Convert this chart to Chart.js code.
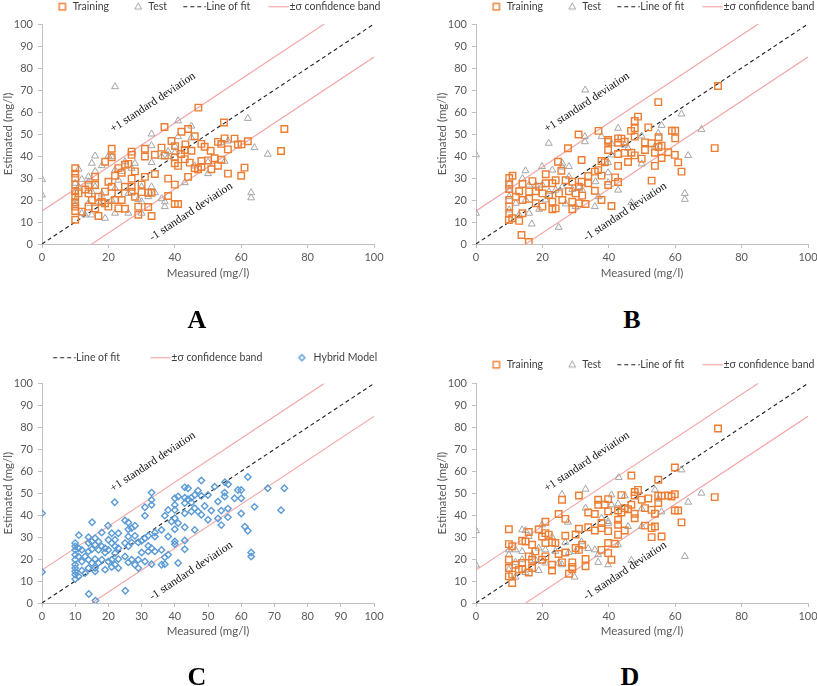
<!DOCTYPE html>
<html><head><meta charset="utf-8">
<script src="https://cdn.jsdelivr.net/npm/chart.js@4.4.0/dist/chart.umd.min.js"></script>
<style>
html,body{margin:0;padding:0;background:#fff;}
body{width:817px;height:686px;overflow:hidden;position:relative;}
canvas{position:absolute;}
.lbl{position:absolute;font:bold 26px 'Liberation Serif','Times New Roman',serif;color:#000;transform:translate(-50%,-50%);z-index:5;}
</style></head><body>
<canvas id="cA" width="434" height="309" style="left:0px;top:-19px"></canvas>
<canvas id="cB" width="434" height="309" style="left:434px;top:-19px"></canvas>
<canvas id="cC" width="434" height="330" style="left:0px;top:320px"></canvas>
<canvas id="cD" width="434" height="311" style="left:434px;top:339px"></canvas>
<div class="lbl" style="left:197px;top:320px">A</div>
<div class="lbl" style="left:632px;top:320px">B</div>
<div class="lbl" style="left:197px;top:677px">C</div>
<div class="lbl" style="left:630px;top:677px">D</div>
<script>
// ---------- data ----------
const xTicksWide = [0, 20, 40, 60, 80, 100];
const xTicksFine = [0, 10, 20, 30, 40, 50, 60, 70, 80, 90, 100];
const yTicks = [0, 10, 20, 30, 40, 50, 60, 70, 80, 90, 100];

const lineOfFit = [[0, 0], [100, 100]];
const upperBand = [[0, 15], [85, 100]];
const lowerBand = [[15, 0], [100, 85]];

const trainingA = [[10,34.4],[10,32],[10,30],[10,27],[10,24],[10,21.5],[10,19],[10,17],[10,15],[10,11],
[47.1,62],[36.9,53.2],[54.8,55.2],[73,52.3],[44,52.3],[42,51],[46,49],[43.2,45.3],[39,46.8],[40.1,44.5],[48,45.5],[55,48],[53,46.4],[58,47.9],[62,46.7],[59,45.2],[60.1,45.3],[56,43],[54,45.5],[50.8,42.4],[52,39],[49,44.2],[45,42.4],[43,42.7],[41.9,40.9],[37,40.2],[36,43.8],[31,43.3],[31,39.8],[34,40.6],[27,42],[27,40.5],[21,43.3],[21,39.4],[19,37.4],[23,34.5],[25,36],[26,36.4],[24,32.4],[27,29.7],[31,30.5],[34,31.8],[38,29.7],[40,39.4],[40,36.7],[41,35.5],[43,38.6],[44.5,37],[44,30.5],[46,34.4],[47,34],[48,37.7],[48,35],[50,38],[51,34],[53,35.6],[54,38.3],[56,32],[60,31],[61,34.7],[72,42.3],[38,21.8],[40,18.2],[41,18.2],[40,27],[33,23.3],[32,23.3],[32,16.8],[33,12.7],[29,13.3],[29,17],[28,21.5],[30,23.6],[30,27],[27,26],[27,23.8],[23,23],[23,16.2],[22,20],[21,26],[20,28.3],[20,17],[19,23.8],[19,18.5],[18,19.2],[17,12.7],[17,21.5],[16,30.6],[16,26.8],[16,16.2],[15,20],[14,26.8],[14,23],[14,17],[13,24.8],[12,14.7],[11,23],[25,26],[25,16],[22,31],[28,33],[24,20]];
const testA = [[0,29.4],[0,22.3],[22,71.5],[41,56],[45,53.6],[62,57.1],[33,50],[33,44.7],[41,48.8],[45,48.3],[56,46.8],[54,46],[64,43.8],[68,40.8],[63,23.3],[63,21],[50,37.3],[50,32],[55,37.6],[43,27.9],[46,35.5],[40,44.5],[40,41.5],[38,39.7],[36,39.7],[37,19.2],[37,17],[33,37],[34,23.3],[36,20.6],[38,42],[15,36.7],[16,40],[20,40],[21,39.7],[18,35.6],[16,33],[11,34],[12,29.4],[14,30.6],[14,28.3],[16,26],[18,22.7],[19,11.7],[12,14],[13,13.2],[15,13.2],[22,14],[26,14],[29,20.3],[30,19.2],[30,14],[32,21.5],[28,36.7],[27,34.4],[25,37.4],[24,33],[22,33.6],[22,25.3],[21,20],[23,29],[10,27.6],[10,23.8],[10,20],[10,17.7],[11,26],[33,26],[30,26],[26,23],[17,19.2],[15,23.8],[14,18.5]];

const trainingB = [[72.9,71.8],[54.9,64.5],[48.8,57.9],[47.8,55.9],[51.9,53],[47.8,52.6],[46.7,51.4],[36.9,51.4],[30.9,49.8],[39.8,47.3],[39.8,46.5],[42.8,48],[43.8,47.9],[42.8,46],[44.8,46.5],[55,48.5],[59,51.5],[60,51.5],[60,48],[47.8,48.8],[50.9,46.2],[52.9,45.8],[55,44.1],[55.9,44.7],[53.9,41.5],[50.9,42.7],[49.9,38.8],[47.8,40.3],[46.8,41.5],[44.8,41.4],[42.8,40.9],[45.8,37.3],[42.8,35.5],[39.8,42.7],[38.8,37.1],[37.8,37.7],[36.8,33.6],[35.8,32.9],[37.8,31.1],[33.8,30.9],[33.8,27.6],[31.8,38.2],[31.8,28.3],[27.7,43.5],[24.7,37.4],[25.7,33.3],[39.8,26.8],[42.8,28.2],[41.9,30.3],[40.8,17.3],[37.8,20],[35.8,24.2],[52.9,28.8],[53.9,35.5],[55.9,39.1],[57.9,41.7],[59.9,40.5],[60.9,37.1],[61.9,32.9],[71.9,43.6],[13.7,4.1],[15.9,0.9],[13,10.5],[10.9,11.7],[9.9,10.9],[10,14],[10,17],[10,20],[10,30],[11,31],[14,27.3],[14,20],[14,14],[17,28.6],[18,24],[19,26],[20,23],[21,31.7],[21,27.6],[22,22.3],[23,19.2],[23,15.8],[24,16.2],[23,27.6],[24,29],[25,23],[26,20],[27,29],[29,28.3],[29,19.2],[29,15.8],[30,23],[31,26],[31,18.5],[33,18.2],[18,18.5],[20,17],[16,23.8],[12,21.5],[10,25],[10,27],[16,20.5],[13,24],[28,24],[32,22]];
const testB = [[0,40.5],[0,14],[32.9,70],[61.9,59.1],[67.9,52.1],[63.9,40.2],[62.9,23],[62.9,20.3],[55.9,53.9],[54.9,50.3],[53.9,44.5],[49.9,49.1],[49.9,36.4],[42.8,52.6],[44.8,45],[45.8,43.5],[40.8,45.6],[40.8,40.5],[39.8,37],[39.8,32.4],[39.8,27.9],[37.8,48.8],[32.8,48.8],[32.8,46.5],[36,28.3],[35.8,17],[36.9,21.5],[42.8,24.5],[46.8,18.8],[21.9,45.8],[19.9,35.2],[14.9,33.3],[24.9,7.6],[16.8,9.1],[10,27.6],[10,24.5],[10,21.5],[10,15.5],[12,18.5],[13,13.2],[14,29.8],[15,20],[16,14],[19,15.8],[21,20],[23,33.6],[26,36.7],[26,35],[28,35.2],[28,30.6],[29,24.8],[31,26],[32,24.5],[26,26],[24,24.5],[22,23.8],[20,26.8],[18,26.8],[16,26.8],[30,17],[27,18.2]];

const hybridC = [[0,40.9],[0,14.1],[16.1,1.1],[14.1,4.1],[25.1,5.6],[21.9,45.9],[15.1,36.8],[11.1,30.9],[19.9,35.2],[33,50.3],[33,47],[33,44.7],[31,43.6],[31,39.8],[37,39.8],[43,52.7],[44,52.3],[48,55.8],[52,53],[55.1,55],[56.1,54.1],[62,57.4],[68,52.3],[73,52.3],[72,42.3],[64,43.8],[62,32.9],[61.1,34.8],[63,23],[63,21.2],[60,40.8],[59,51.5],[60,51.5],[60,47.7],[58,47.7],[55,48.5],[55,50.3],[53,46.2],[54,42.1],[54,35.5],[56,43],[56,39.1],[53,38.5],[51,42.1],[50,37.9],[50,49.2],[49,44.2],[48,48.8],[47,51.2],[46,49.2],[45,48],[45,45.8],[44,47.3],[43,48],[43,45.5],[43,40.9],[45,41.7],[46,43.2],[47,41.7],[48,40.2],[46,33.3],[43,34.5],[43,28.5],[43,24.5],[40,47.7],[40,44.7],[40,42.4],[40,38.6],[40,33.6],[40,28],[40,26.8],[39,37.1],[41,48.5],[41,36.4],[41,18.2],[38,42.4],[38,30.3],[38,22],[37,20.8],[36,33.3],[36,24.2],[36,17.4],[37,17.7],[34,32.1],[34,30.3],[34,23.5],[33,25],[33,17.7],[32,30.6],[32,26],[32,23.5],[31,29.5],[31,18.9],[30,28.3],[30,23],[29,27.6],[29,19.7],[29,15.9],[28,35.2],[28,30.6],[28,17.4],[27,34.1],[27,27.6],[27,19.7],[26,36.7],[26,33.6],[26,30.3],[26,25.8],[26,18.5],[25,37.6],[25,27.3],[25,21.2],[23,31.8],[23,25],[23,20],[23,15.9],[22,28.8],[22,25.8],[22,22.7],[22,17.4],[21,31.8],[21,27.3],[21,19.7],[21,16.4],[20,28.8],[20,24.2],[20,18.9],[19,25],[19,23],[19,15.2],[18,32.1],[18,25.8],[18,19.7],[17,28],[17,24.2],[17,18.2],[16,29.5],[16,26.5],[16,20],[16,15.9],[16,14.4],[15,28],[15,24.5],[15,18.2],[14,30],[14,27.3],[14,23.5],[14,19.7],[14,15.9],[13,21.2],[13,13.6],[12,24.2],[12,18.9],[12,14.8],[11,25],[11,21.2],[11,12.1],[10,27.3],[10,25.8],[10,24.2],[10,22],[10,19.7],[10,17.4],[10,15.9],[10,14.4],[10,12.9],[10,10.9]];

const trainingD = [[72.9,79.4],[59.9,61.7],[46.8,58],[54.9,56.1],[48.8,51.5],[47.8,50.5],[47.8,48.9],[43.8,49.1],[31,48.9],[25.9,47],[39.8,47.3],[36.8,47],[36.8,44.7],[38.8,44.7],[39.8,41.7],[42.8,42.1],[43.8,41.2],[44.8,43.2],[45.8,42.7],[46.8,44.7],[49.9,47],[51.9,47.6],[52.9,42.4],[50.9,43.2],[53.9,40.6],[54.9,48.8],[54.9,45.5],[55.9,48.8],[57.9,48.9],[58.9,48.5],[59.9,49.5],[59.9,42.1],[60.9,42.1],[61.9,36.7],[71.9,48.2],[47.8,40.6],[47.8,38.6],[50.9,35.2],[53.9,34.8],[52.9,34.1],[52.9,30],[55.9,30.3],[44.8,33],[42.8,37.9],[42.8,35.6],[42.8,31.1],[39.8,32.7],[39.8,27.3],[41.8,27],[39.8,22.7],[40.8,19.7],[37.8,36.4],[37.8,34.1],[37.8,24.2],[35.8,40.5],[35.8,33],[33.8,41.2],[33.8,34.5],[31,33.8],[30,31.2],[26.9,30.6],[26.9,38.3],[24.9,40.5],[20.9,37],[18.9,33.6],[9.9,33.6],[15.9,32.3],[20.9,31.8],[21.9,31.1],[19.9,30.3],[13.9,28.3],[14.9,28],[16.9,26.5],[9.9,26.8],[10.9,25.8],[22.9,27.6],[23.9,27.3],[20.9,27.3],[26.9,23],[30,25],[31,24.2],[32,26.5],[33,20],[33,16.7],[29,18.5],[29,16.4],[29,15.5],[28,13.3],[25.9,18.5],[24.9,22.3],[22.9,17.4],[22.9,14.8],[20.9,21.2],[19.9,19.7],[17.9,23.5],[16.9,19.7],[16.9,15.9],[15.9,21.2],[15.9,13.9],[13.9,18.2],[13.9,15.5],[12.9,15.2],[11.9,17.4],[10.9,12.9],[10.9,9.1],[9.9,19.7],[9.9,15.9],[9.9,12.1]];
const testD = [[0,32.9],[0,17.3],[25.9,49.4],[33,51.8],[43,57.1],[61.9,60.6],[67.9,50],[63.9,45.9],[62.9,21.2],[53.9,51.5],[54.9,47.3],[55.9,41.5],[49.9,42.9],[49.9,34.8],[45.8,34.8],[44.8,48.8],[40.8,49.2],[40.8,44.7],[42.8,45.2],[39.8,37.1],[39.8,36.1],[39.8,17.4],[42.8,26.5],[37.8,38.6],[36.8,22],[36.8,18.5],[35.8,24.2],[33.8,24.8],[33,43.2],[27.7,36.8],[26.9,27.6],[29.7,11.8],[31.8,27.9],[46.8,19.4],[13.9,33.3],[14.9,33],[15.9,30.3],[19.9,35.6],[22.9,30],[18.9,14.8],[14.9,13.9],[11.9,11.8],[9.9,15.2],[9.9,24.2],[9.9,22],[11.9,24.2],[13.9,23.5],[16.9,22],[18.9,25],[20.9,24.2],[23.9,23.5],[24.9,18.2],[25.9,17.4],[27.9,23],[30,23.5],[20.9,18.2],[17.9,19.7],[13.9,19.7],[11.9,18.5]];

// ---------- styling ----------
const ORANGE = '#ED7D31', GREY = '#A5A5A5', BLUE = '#5B9BD5', PINK = '#F4A3A3', DARK = '#1f1f1f';
const TXT = '#595959';
const FONT = "Lato, 'Open Sans', sans-serif";
const LEG_FONT = 10.5;
const BOX_W = 14;
const toXY = a => a.map(([x, y]) => ({x, y}));

// legend marker image: drawn centred on the legend box, wider than the box
function legendMarker(kind, color) {
  const W = 34, H = 12, c = document.createElement('canvas');
  c.width = W; c.height = H;
  const g = c.getContext('2d');
  g.strokeStyle = color;
  const cy = 6.5;
  const textStart = W / 2 + BOX_W / 2 + LEG_FONT / 2;
  if (kind === 'rect') { g.lineWidth = 1.4; const cx = textStart - 10.5; g.strokeRect(cx - 3.2, cy - 3.2, 6.4, 6.4); }
  else if (kind === 'triangle') { g.lineWidth = 1; const cx = textStart - 10; g.beginPath(); g.moveTo(cx, cy - 3.8); g.lineTo(cx + 3.4, cy + 2.4); g.lineTo(cx - 3.4, cy + 2.4); g.closePath(); g.stroke(); }
  else if (kind === 'diamond') { g.lineWidth = 1.4; const cx = textStart - 11.7; g.beginPath(); g.moveTo(cx, cy - 3); g.lineTo(cx + 3, cy); g.lineTo(cx, cy + 3); g.lineTo(cx - 3, cy); g.closePath(); g.stroke(); }
  else if (kind === 'dash') { g.lineWidth = 1.2; g.setLineDash([4, 3]); g.beginPath(); g.moveTo(textStart - 23, cy); g.lineTo(textStart - 0.5, cy); g.stroke(); }
  else if (kind === 'line') { g.lineWidth = 1.2; g.beginPath(); g.moveTo(textStart - 21, cy); g.lineTo(textStart - 0.5, cy); g.stroke(); }
  return c;
}

const sdLabels = {
  id: 'sdLabels',
  afterDatasetsDraw(chart, args, opts) {
    const {ctx, scales: {x, y}} = chart;
    const ang = Math.atan2(y.getPixelForValue(0) - y.getPixelForValue(100), x.getPixelForValue(100) - x.getPixelForValue(0));
    ctx.save();
    ctx.font = "11.5px 'Liberation Serif', 'Times New Roman', serif";
    ctx.fillStyle = '#111';
    ctx.textAlign = 'center'; ctx.textBaseline = 'middle';
    (opts.items || []).forEach(it => {
      ctx.save();
      ctx.translate(x.getPixelForValue(it.x), y.getPixelForValue(it.y));
      ctx.rotate(-ang);
      ctx.fillText(it.text, 0, 0);
      ctx.restore();
    });
    ctx.restore();
  }
};

function pointSet(label, data, style, color, radius, bw, kind, rank) {
  return {label, data: toXY(data), pointStyle: style, pointRadius: radius, pointBorderWidth: bw,
    pointBorderColor: color, pointBackgroundColor: 'rgba(255,255,255,0)', showLine: false,
    legendKind: kind, legendColor: color, legendRank: rank};
}
function lineSet(label, data, color, dash, kind, rank) {
  return {label, data: toXY(data), showLine: true, borderColor: color, borderWidth: 1.1,
    borderDash: dash, pointRadius: 0, fill: false,
    legendKind: kind, legendColor: color, legendRank: rank};
}

function makeChart(id, pointSets, xt, lay, lineRanks) {
  const datasets = pointSets.concat([
    lineSet('Line of fit', lineOfFit, DARK, [4, 3], 'dash', lineRanks[0]),
    lineSet('±σ confidence band', upperBand, PINK, [], 'line', lineRanks[1]),
    lineSet('±σ lower', lowerBand, PINK, [], null, 99)
  ]);
  return new Chart(document.getElementById(id), {
    type: 'scatter',
    data: {datasets},
    options: {
      responsive: false, animation: false, events: [],
      layout: {padding: 0},
      plugins: {
        tooltip: {enabled: false},
        legend: {
          position: 'top',
          labels: {
            usePointStyle: true, pointStyleWidth: BOX_W, padding: lay.legPad,
            color: '#404040', font: {family: FONT, size: LEG_FONT},
            generateLabels(chart) {
              return chart.data.datasets.map((ds, i) => ({ds, i}))
                .filter(o => o.ds.legendKind)
                .sort((a, b) => a.ds.legendRank - b.ds.legendRank)
                .map(o => ({text: o.ds.label, fontColor: '#404040', pointStyle: legendMarker(o.ds.legendKind, o.ds.legendColor),
                  hidden: false, datasetIndex: o.i, lineWidth: 0, strokeStyle: 'rgba(0,0,0,0)', fillStyle: 'rgba(0,0,0,0)'}));
            }
          }
        },
        sdLabels: {items: [
          {text: '+1 standard deviation', x: 33.4, y: 64.3},
          {text: '-1 standard deviation', x: 44.9, y: 14.6}
        ]}
      },
      scales: {
        x: {
          type: 'linear', min: 0, max: 100, position: 'bottom',
          afterBuildTicks: s => { s.ticks = xt.map(v => ({value: v})); },
          ticks: {color: TXT, font: {family: FONT, size: 11}, padding: 3, maxRotation: 0, autoSkip: false},
          grid: {display: true, drawOnChartArea: false, drawTicks: true, tickLength: 4, color: '#BFBFBF'},
          border: {display: true, color: '#BFBFBF'},
          title: {display: true, text: 'Measured (mg/l)', color: TXT, font: {family: FONT, size: 11.5}, padding: {top: 0, bottom: lay.pb}},
          afterFit: s => { s.height = lay.xh; }
        },
        y: {
          type: 'linear', min: 0, max: 100, position: 'left',
          afterBuildTicks: s => { s.ticks = yTicks.map(v => ({value: v})); },
          ticks: {color: TXT, font: {family: FONT, size: 11}, padding: 5, autoSkip: false},
          grid: {display: true, drawOnChartArea: false, drawTicks: true, tickLength: 4, color: '#BFBFBF'},
          border: {display: true, color: '#BFBFBF'},
          title: {display: true, text: 'Estimated (mg/l)', color: TXT, font: {family: FONT, size: 11.5}, padding: {top: 1, bottom: 0}},
          afterFit: s => { s.width = 42; }
        },
        yR: {type: 'linear', position: 'right', display: true, ticks: {display: false}, grid: {display: false}, border: {display: false}, afterFit: s => { s.width = 60; }},
        xT: {type: 'linear', position: 'top', display: true, ticks: {display: false}, grid: {display: false}, border: {display: false}, afterFit: s => { s.height = lay.top; }}
      }
    },
    plugins: [sdLabels]
  });
}

makeChart('cA', [
  pointSet('Training', trainingA, 'rect', ORANGE, 4.6, 1.4, 'rect', 0),
  pointSet('Test', testA, 'triangle', GREY, 4, 1, 'triangle', 1)
], xTicksWide, {legPad: 20, top: 2.5, xh: 46, pb: 9.8}, [2, 3]);
makeChart('cB', [
  pointSet('Training', trainingB, 'rect', ORANGE, 4.6, 1.4, 'rect', 0),
  pointSet('Test', testB, 'triangle', GREY, 4, 1, 'triangle', 1)
], xTicksWide, {legPad: 20, top: 2.5, xh: 46, pb: 9.8}, [2, 3]);
makeChart('cC', [
  pointSet('Hybrid Model', hybridC, 'rectRot', BLUE, 3.2, 1.4, 'diamond', 2)
], xTicksFine, {legPad: 32, top: 11, xh: 47, pb: 11.4}, [0, 1]);
makeChart('cD', [
  pointSet('Training', trainingD, 'rect', ORANGE, 4.6, 1.4, 'rect', 0),
  pointSet('Test', testD, 'triangle', GREY, 4, 1, 'triangle', 1)
], xTicksWide, {legPad: 20, top: 3.8, xh: 47, pb: 11.4}, [2, 3]);
</script>
</body></html>
